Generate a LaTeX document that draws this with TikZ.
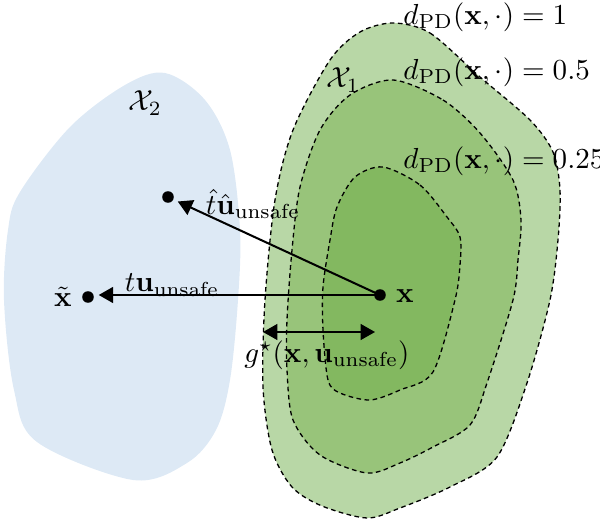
\documentclass[tikz,border=0pt]{standalone}
\usetikzlibrary{arrows.meta}
\definecolor{blueset}{HTML}{DDE9F5}
\definecolor{gouter}{HTML}{B8D7A6}
\definecolor{gmid}{HTML}{98C47A}
\definecolor{ginner}{HTML}{83B860}
\tikzset{
  region/.style={draw=black, line width=0.45pt, dash pattern=on 1.6pt off 1.2pt},
  pt/.style={circle, fill=black, inner sep=0pt, minimum size=4pt},
  vec/.style={line width=0.7pt, -{Triangle[length=5pt,width=5.5pt]}},
  dvec/.style={line width=0.7pt, {Triangle[length=5pt,width=5.5pt]}-{Triangle[length=5pt,width=5.5pt]}},
  lbl/.style={inner sep=1pt}
}
\begin{document}
\begin{tikzpicture}[x=0.345pt, y=-0.345pt]
\useasboundingbox (0,0) rectangle (600,520);
% X2 region
\fill[blueset] plot[smooth cycle, tension=0.55] coordinates {
 (165,73) (205,100) (230,150) (240,230) (238,300) (230,380) (216,430) (187,463) (133,480) (37,442) (14,390) (4,300) (8,230) (20,192) (70,127) (125,85)};
% X1 regions
\filldraw[fill=gouter, region] plot[smooth cycle, tension=0.5] coordinates {
 (393,23) (430,33) (480,77) (530,120) (553,152) (560,190) (558,240) (550,300) (527,383) (497,457) (450,487) (400,508) (367,518) (322,506) (292,487) (272,450) (263,387) (265,300) (275,200) (293,130) (330,60) (360,32)};
\filldraw[fill=gmid, region] plot[smooth cycle, tension=0.5] coordinates {
 (393,80) (443,100) (480,133) (513,180) (521,220) (518,260) (513,300) (487,383) (470,425) (433,447) (400,463) (367,473) (320,455) (293,420) (287,370) (287,320) (292,250) (300,187) (320,130) (350,95)};
\filldraw[fill=ginner, region] plot[smooth cycle, tension=0.5] coordinates {
 (383,167) (420,185) (447,217) (460,237) (460,265) (455,300) (433,372) (400,390) (370,400) (340,393) (328,380) (323,330) (323,287) (330,240) (337,207) (355,177)};
% labels of sets
\node[lbl] (X1) at (343,80) {$\mathcal{X}_1$};
\node[lbl] (X2) at (145,103) {$\mathcal{X}_2$};
\node[lbl, anchor=west] (d1) at (400,17) {$d_{\mathrm{PD}}(\mathbf{x},\cdot)=1$};
\node[lbl, anchor=west] (d2) at (400,72) {$d_{\mathrm{PD}}(\mathbf{x},\cdot)=0.5$};
\node[lbl, anchor=west] (d3) at (400,161) {$d_{\mathrm{PD}}(\mathbf{x},\cdot)=0.25$};
% points
\node[pt] (x) at (380,295) {};
\node[pt] (xt) at (88,297) {};
\node[pt] (xh) at (168,197) {};
\node[lbl] (xl) at (405,296) {$\mathbf{x}$};
\node[lbl] (xtl) at (63,297) {$\tilde{\mathbf{x}}$};
% vectors
\draw[vec, shorten >=1.5pt] (x.center) -- (x.center -| xt.east);
\draw[vec, shorten >=1.5pt] (x.center) -- (xh);
\node[lbl] (tu) at (172,285) {$t\mathbf{u}_{\mathrm{unsafe}}$};
\node[lbl] (thu) at (253,204) {$\hat{t}\hat{\mathbf{u}}_{\mathrm{unsafe}}$};
% g star
\coordinate (g1) at (263,332);
\coordinate (g2) at (375,332);
\draw[dvec] (g1) -- (g2);
\node[lbl] (gl) at (327,355) {$g^\star(\mathbf{x},\mathbf{u}_{\mathrm{unsafe}})$};
\end{tikzpicture}
\end{document}
